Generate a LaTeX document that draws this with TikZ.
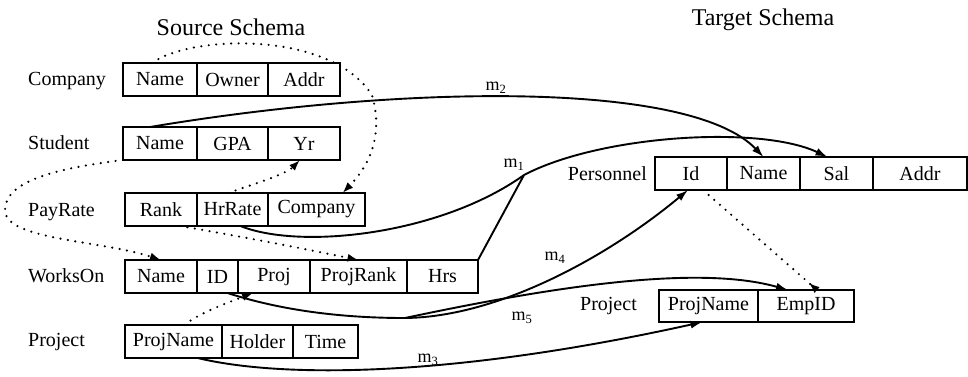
\documentclass[tikz,border=0pt]{standalone}
\usepackage{fontspec}
\setmainfont{Liberation Serif}
\usetikzlibrary{positioning,arrows.meta,calc}
\tikzset{
  cell/.style={draw, line width=1.8pt, outer sep=0pt, inner sep=0pt,
    minimum height=33pt, font=\fontsize{20}{22}\selectfont},
  rel/.style={font=\fontsize{20}{22}\selectfont, inner sep=0pt},
  schematitle/.style={font=\fontsize{24}{26}\selectfont},
  map/.style={line width=1.9pt, -{Latex[length=12pt,width=8pt]}},
  fk/.style={line width=2.4pt, dash pattern=on 0pt off 7.5pt, line cap=round,
    -{Latex[length=11pt,width=8pt]}},
  mlbl/.style={font=\fontsize{18}{20}\selectfont, inner sep=0pt}}
\newcommand{\mname}[1]{m\textsubscript{#1}}

\begin{document}
\begin{tikzpicture}[x=1pt, y=-1pt]
  \useasboundingbox (0,0) rectangle (968,376);
  \coordinate (lx) at (28,0);

  \node[schematitle] (srct) at (231,27) {Source Schema};
  \node[schematitle] (tgtt) at (763,20) {Target Schema};

  % source relations
  \node[cell, minimum width=74pt, anchor=north west] (co1) at (123,63) {Name};
  \node[cell, minimum width=71pt] (co2) [right=0pt of co1] {Owner};
  \node[cell, minimum width=72pt] (co3) [right=0pt of co2] {Addr};

  \node[cell, minimum width=74pt, anchor=north west] (st1) at (123,127) {Name};
  \node[cell, minimum width=71pt] (st2) [right=0pt of st1] {GPA};
  \node[cell, minimum width=72pt] (st3) [right=0pt of st2] {Yr};

  \node[cell, minimum width=72pt, anchor=north west] (pr1) at (125,193) {Rank};
  \node[cell, minimum width=71pt] (pr2) [right=0pt of pr1] {HrRate};
  \node[cell, minimum width=97pt] (pr3) [right=0pt of pr2] {Company};

  \node[cell, minimum width=72pt, anchor=north west] (wo1) at (125,260) {Name};
  \node[cell, minimum width=41pt] (wo2) [right=0pt of wo1] {ID};
  \node[cell, minimum width=72pt] (wo3) [right=0pt of wo2] {Proj};
  \node[cell, minimum width=97pt] (wo4) [right=0pt of wo3] {ProjRank};
  \node[cell, minimum width=71pt] (wo5) [right=0pt of wo4] {Hrs};

  \node[cell, minimum width=97pt, anchor=north west] (sp1) at (125,325) {ProjName};
  \node[cell, minimum width=71pt] (sp2) [right=0pt of sp1] {Holder};
  \node[cell, minimum width=65pt] (sp3) [right=0pt of sp2] {Time};

  \node[rel, anchor=base west] (company) at (co1.base -| lx) {Company};
  \node[rel, anchor=base west] (student) at (st1.base -| lx) {Student};
  \node[rel, anchor=base west] (payrate) at (pr1.base -| lx) {PayRate};
  \node[rel, anchor=base west] (workson) at (wo1.base -| lx) {WorksOn};
  \node[rel, anchor=base west] (sproject) at (sp1.base -| lx) {Project};

  % target relations
  \node[cell, minimum width=72pt, anchor=north west] (pe1) at (655,157) {Id};
  \node[cell, minimum width=73pt] (pe2) [right=0pt of pe1] {Name};
  \node[cell, minimum width=73pt] (pe3) [right=0pt of pe2] {Sal};
  \node[cell, minimum width=94pt] (pe4) [right=0pt of pe3] {Addr};

  \node[cell, minimum width=99pt, minimum height=32pt, anchor=north west] (tp1) at (659,290) {ProjName};
  \node[cell, minimum width=96pt, minimum height=32pt] (tp2) [right=0pt of tp1] {EmpID};

  \node[rel, anchor=base east] (personnel) at ([xshift=-8pt]pe1.base west) {Personnel};
  \node[rel, anchor=base east] (tproject) at ([xshift=-22pt]tp1.base west) {Project};

  % foreign keys
  \draw[fk] ([xshift=-8pt]co1.north) .. controls (190,35) and (330,30) .. (372,95)
    .. controls (385,140) and (365,170) .. ([xshift=26pt]pr3.north);
  \draw[fk] (st1.south west) .. controls (60,168) and (5,180) .. (5,210)
    .. controls (5,240) and (100,240) .. (wo1.north);
  \draw[fk] ([xshift=-4pt]pr2.north) .. controls (250,185) and (285,175) .. ([xshift=-4pt]st3.south);
  \draw[fk] ([xshift=19pt]pr1.south) .. controls (250,238) and (310,250) .. (wo4.north);
  \draw[fk] ([xshift=11pt]sp1.north) .. controls (200,312) and (235,300) .. ([xshift=-21pt]wo3.south);
  \draw[fk, -{Latex[length=11pt,width=8pt,reversed]}] ([xshift=12pt]pe1.south) -- ([xshift=11pt]tp2.north);

  % mappings
  \draw[map] ([xshift=-10pt]st1.north) .. controls (400,85) and (690,80) .. (pe2.north);
  \node[mlbl] (m2) at (496,88) {\mname{2}};

  \coordinate (j1) at (524,175);
  \draw[line width=1.9pt] ([xshift=8pt]pr2.south) .. controls (300,250) and (440,235) .. (j1);
  \draw[line width=1.9pt] (wo5.north east) -- (j1);
  \draw[map] (j1) .. controls (600,135) and (760,125) .. ([xshift=-9pt]pe3.north);
  \node[mlbl] (m1) at (514,165) {\mname{1}};

  \coordinate (k1) at (405,318);
  \draw[line width=1.9pt] ([xshift=10pt]wo2.south) .. controls (280,310) and (340,318) .. (k1);
  \draw[map] (k1) .. controls (500,317) and (610,255) .. ([xshift=-3pt]pe1.south);
  \draw[map] (k1) .. controls (560,285) and (700,265) .. ([xshift=-18pt]tp2.north);
  \node[mlbl] (m4) at (555,258) {\mname{4}};
  \node[mlbl] (m5) at (522,318) {\mname{5}};

  \draw[map] ($(sp1.south)!0.5!(sp1.south east)$) .. controls (280,378) and (450,378) .. ([xshift=-6pt]tp1.south);
  \node[mlbl] (m3) at (428,360) {\mname{3}};
\end{tikzpicture}
\end{document}
